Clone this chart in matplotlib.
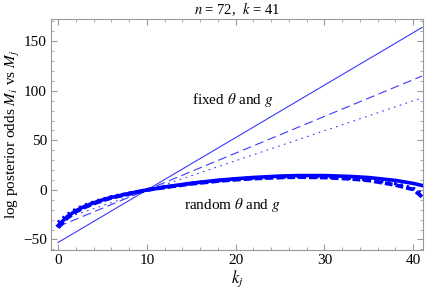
import matplotlib
matplotlib.use("Agg")
from matplotlib import pyplot as plt
from matplotlib.ticker import MultipleLocator

plt.rcParams['font.family'] = ['Liberation Serif', 'DejaVu Serif']
plt.rcParams['mathtext.fontset'] = 'stix'

# fixed theta and g: straight lines (end points)
kfix = [0, 41]
fix_solid = [-53, 164]
fix_dashed = [-37, 115]
fix_dotted = [-31, 93]

# random theta and g: curves
kr = [0, 1, 2, 3, 4, 5, 6, 8, 10, 12, 15, 18, 20, 22, 25, 27, 30, 33, 35, 38, 40, 41]
rnd_solid = [-36, -27, -21, -16.5, -13, -10, -7.5, -3.5, 0, 3, 6.8, 9.8, 11.3, 12.6, 14, 14.5, 14.5, 13.6, 12.5, 9.6, 6.6, 4.5]
rnd_dashed = [-38, -28.5, -22, -17.5, -13.8, -10.8, -8, -4, 0, 2.6, 6.2, 9, 10.4, 11.5, 12.6, 13, 12.6, 11.2, 9.6, 5, 0.5, -7]
rnd_dotted = [-33, -25, -19.5, -15.5, -12.3, -9.5, -7, -3.3, 0, 2.8, 6.5, 9.4, 10.8, 12, 13.2, 13.6, 13.3, 12, 10.6, 6.5, 1.5, -4]

blue = '#0000ff'
thin = '#3a3aff'

fig = plt.figure(figsize=(4.43, 2.91), dpi=100)
ax = fig.add_axes([0.1151, 0.1409, 0.8398, 0.7921])

ax.plot(kfix, fix_solid, color=thin, lw=0.8)
ax.plot(kfix, fix_dashed, color=thin, lw=0.8, dashes=(8, 4))
ax.plot(kfix, fix_dotted, color=thin, lw=0.8, dashes=(1.5, 4))

ax.plot(kr, rnd_dotted, color=blue, lw=2.6, dashes=(0.6, 1.2))
ax.plot(kr, rnd_dashed, color=blue, lw=2.8, dashes=(2, 0.8))
ax.plot(kr, rnd_solid, color=blue, lw=2.6)

ax.text(19.7, 91, r'fixed $\theta$ and $g$', ha='center', va='center', fontsize=11)
ax.text(19.6, -15, r'random $\theta$ and $g$', ha='center', va='center', fontsize=11)

ax.set_xlim(-0.8, 41.1)
ax.set_ylim(-60.6, 172)
ax.xaxis.set_major_locator(MultipleLocator(10))
ax.xaxis.set_minor_locator(MultipleLocator(2))
ax.yaxis.set_major_locator(MultipleLocator(50))
ax.yaxis.set_minor_locator(MultipleLocator(10))
ax.tick_params(which='both', direction='in', top=True, right=True, color='#999999', labelsize=11, pad=3)
ax.tick_params(which='major', length=4)
ax.tick_params(which='minor', length=2)
for s in ax.spines.values():
    s.set_color('#999999')
    s.set_linewidth(0.8)

ax.set_xlabel(r'$k_j$', fontsize=12, labelpad=1)
ax.set_ylabel(r'log posterior odds $M_i$ vs $M_j$', fontsize=11, labelpad=1)
ax.set_title(r'$n$ = 72,  $k$ = 41', fontsize=10.5, pad=4)

fig.savefig('out.png', dpi=100)
